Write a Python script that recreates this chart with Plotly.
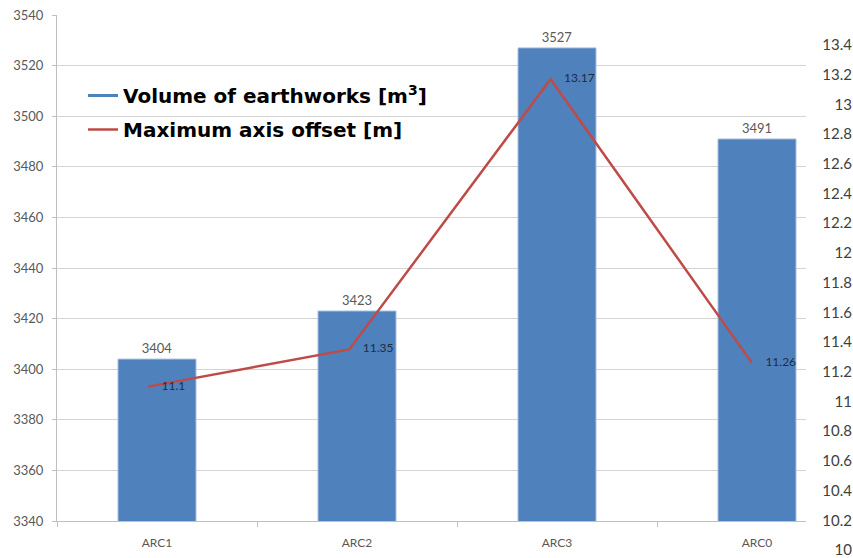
import plotly.graph_objects as go

categories = ["ARC1", "ARC2", "ARC3", "ARC0"]
volume = [3404, 3423, 3527, 3491]
offset = [11.1, 11.35, 13.17, 11.26]
volume_name = "Volume of earthworks [m<sup>3</sup>]"
offset_name = "Maximum axis offset [m]"

W, H = 853, 558
ml, mr, mt, mb = 57, 0, 15, 3
pw, ph = W - ml - mr, H - mt - mb

def fy(py):  # pixel y -> paper fraction
    return (H - mb - py) / ph

def fx(px):
    return (px - ml) / pw

blue = "#4F81BD"
red = "#BE4B48"
font = "Lato"

fig = go.Figure()

fig.add_trace(go.Bar(
    x=categories, y=volume, name=volume_name, marker_color=blue,
    marker_line=dict(color="#A7C0DE", width=1),
    width=0.39, text=[str(v) for v in volume], textposition="outside",
    textfont=dict(family=font, size=13, color="#595959"),
    cliponaxis=False, showlegend=False, xaxis="x", yaxis="y",
    legendgroup="a",
))
fig.add_trace(go.Scatter(
    x=[None], y=[None], mode="lines", name=volume_name,
    line=dict(color=blue, width=3), xaxis="x", yaxis="y",
    legendgroup="a",
))
fig.add_trace(go.Scatter(
    x=[0, 1, 2, 3], y=offset, mode="lines+markers+text", name=offset_name,
    line=dict(color=red, width=2.5),
    marker=dict(size=20, color="rgba(0,0,0,0)"),
    text=[f"{v:g}" for v in offset], textposition="middle right",
    textfont=dict(family=font, size=12, color="#1F2D3D"),
    cliponaxis=False, xaxis="x2", yaxis="y2",
    legendgroup="b",
))

x_right = 806
xr0 = -0.5
xr1 = xr0 + (x_right - ml) / 200.0

x2_end = 850
step2 = 201.3
a2 = -(148 - ml) / step2
b2 = a2 + (x2_end - ml) / step2

# right axis: 10 at y=550px, 13.4 at y=45px
ppu = (550 - 45) / 3.4
r2 = [9.985, 13.415]
def py2(v):
    return 550 - (v - 10) * ppu

fig.update_layout(
    width=W, height=H,
    margin=dict(l=ml, r=mr, t=mt, b=mb, autoexpand=False),
    paper_bgcolor="white", plot_bgcolor="rgba(0,0,0,0)",
    xaxis=dict(
        domain=[0, fx(x_right)], range=[xr0, xr1], anchor="y",
        type="category", showgrid=False, showline=True, linecolor="#BFBFBF",
        ticks="outside", tickson="boundaries", ticklen=5, tickcolor="#BFBFBF",
        ticklabelstandoff=11,
        tickfont=dict(family=font, size=12, color="#595959"),
    ),
    yaxis=dict(
        domain=[fy(521), 1], range=[3340, 3540], dtick=20, anchor="x",
        showgrid=True, gridcolor="#D4D4D4", gridwidth=1,
        showline=True, linecolor="#BFBFBF", zeroline=False,
        ticks="outside", ticklen=4, tickcolor="#BFBFBF",
        ticklabelstandoff=6,
        tickfont=dict(family=font, size=13, color="#595959"),
    ),
    xaxis2=dict(
        domain=[0, fx(x2_end)], range=[a2, b2], anchor="y2", visible=False,
    ),
    yaxis2=dict(
        domain=[fy(py2(r2[0])), fy(py2(r2[1]))], range=r2,
        tick0=10, dtick=0.2,
        anchor="free", position=fx(852), side="left",
        showgrid=False, zeroline=False, showline=False, ticks="",
        ticklabelstandoff=0, ticklabeloverflow="allow",
        tickfont=dict(family=font, size=15, color="#404040"),
    ),
    legend=dict(
        x=fx(83), y=fy(76), xanchor="left", yanchor="top",
        bgcolor="rgba(0,0,0,0)",
        font=dict(family="DejaVu Sans", size=20, color="#000000", weight="bold"),
        itemwidth=30, traceorder="grouped", tracegroupgap=5,
    ),
    showlegend=True,
)

fig.write_html("out.html", config={"displayModeBar": False},
               post_script="document.body.style.margin='0';")
